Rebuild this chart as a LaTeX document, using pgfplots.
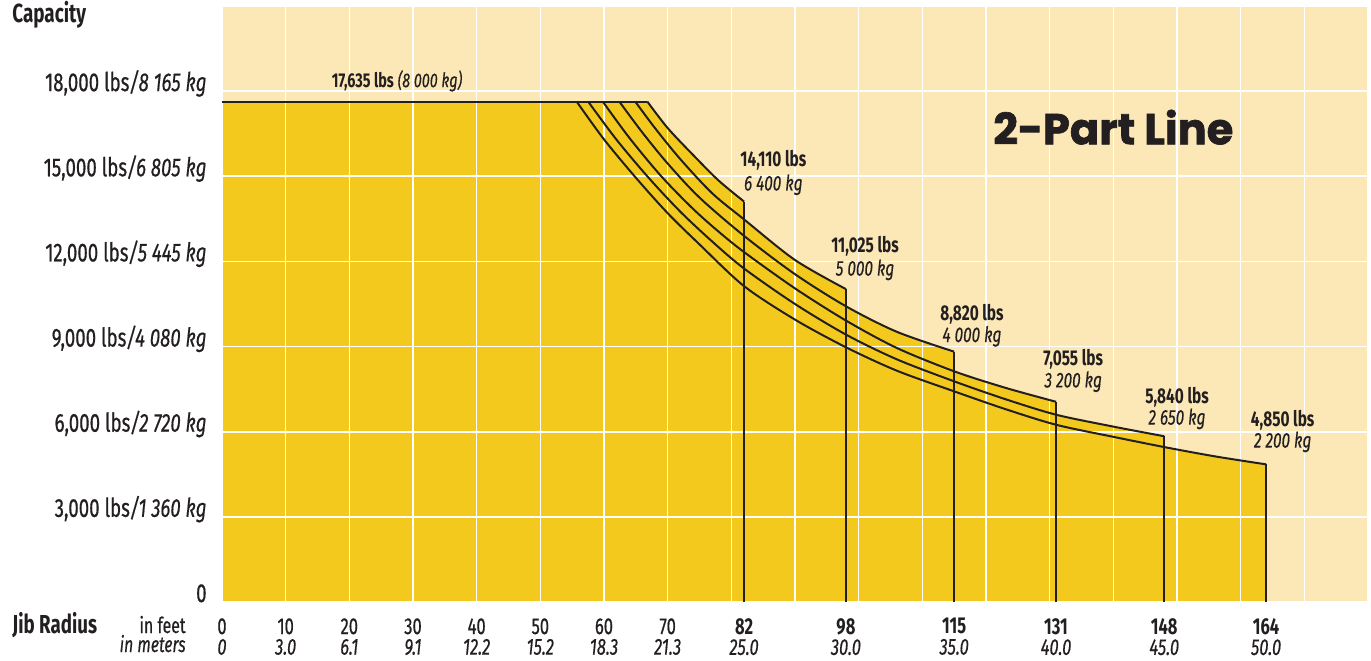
\documentclass[border=0pt]{standalone}
\usepackage{fontspec}
\setmainfont{Fira Sans}[FakeStretch=0.72, UprightFeatures={FakeBold=0.6}, ItalicFeatures={FakeBold=0.4}]
\newfontfamily\pop{Poppins}[BoldFeatures={FakeBold=1.5}]
\usepackage{pgfplots}
\pgfplotsset{compat=1.18}
\definecolor{bglight}{HTML}{FCE8B6}
\definecolor{yellowfill}{HTML}{F3C91E}
\definecolor{dark}{HTML}{231F20}
\newcommand{\lbl}{\fontsize{10.7}{12}\selectfont}
\begin{document}
\begin{tikzpicture}
\begin{axis}[
  set layers,
  scale only axis, width=573pt, height=298pt,
  xmin=0, xmax=180, ymin=0, ymax=21000,
  axis line style={draw=none},
  tick style={draw=none}, major tick length=0pt,
  grid=major, grid style={white, line width=0.8pt},
  xtick={0,10,...,180},
  xticklabels={{0\\\textit{0}},{10\\\textit{3.0}},{20\\\textit{6.1}},{30\\\textit{9.1}},{40\\\textit{12.2}},{50\\\textit{15.2}},{60\\\textit{18.3}},{70\\\textit{21.3}},{},{},{},{},{},{},{},{},{},{},{}},
  xticklabel style={align=center, anchor=north, inner sep=0pt, yshift=-8pt, font=\fontsize{11.5}{10.3}\selectfont, text=dark},
  extra x ticks={82,98,115,131,148,164},
  extra x tick labels={{\textbf{82}\\\textit{25.0}},{\textbf{98}\\\textit{30.0}},{\textbf{115}\\\textit{35.0}},{\textbf{131}\\\textit{40.0}},{\textbf{148}\\\textit{45.0}},{\textbf{164}\\\textit{50.0}}},
  extra x tick style={grid=none},
  ytick={0,3000,...,21000},
  yticklabels={{0},{3,000 lbs\textit{/1 360 kg}},{6,000 lbs\textit{/2 720 kg}},{9,000 lbs\textit{/4 080 kg}},{12,000 lbs\textit{/5 445 kg}},{15,000 lbs\textit{/6 805 kg}},{18,000 lbs\textit{/8 165 kg}},{}},
  yticklabel style={anchor=base east, inner sep=0pt, xshift=-7.5pt, font=\fontsize{13}{15}\selectfont, text=dark},
  scaled y ticks=false,
  clip=false,
]
% backgrounds
\addplot[draw=none, fill=bglight, on layer=axis background] coordinates {(0,21000)(180,21000)} \closedcycle;
\addplot[draw=none, fill=yellowfill, on layer=axis background] coordinates {
 (0,17635)(66.8,17635)(70,16700)(74,15750)(78,14850)(82,14110)
 (82,13480)(90,12050)(98,11025)
 (98,10420)(106,9520)(115,8820)
 (115,8128)(123,7550)(131,7055)
 (131,6600)(140,6180)(148,5840)
 (148,5459)(156,5130)(164,4850)} \closedcycle;
% flat top
\addplot[dark, line width=1pt] coordinates {(0,17635)(66.8,17635)};
% curves
\addplot[dark, line width=1pt, smooth] coordinates {(66.8,17635)(70,16700)(74,15750)(78,14850)(82,14110)};
\addplot[dark, line width=1pt, smooth] coordinates {(64.9,17635)(68,16700)(72,15600)(77,14400)(82,13480)(90,12050)(98,11025)};
\addplot[dark, line width=1pt, smooth] coordinates {(62.4,17635)(66,16550)(70,15450)(75,14250)(82,12900)(90,11550)(98,10420)(106,9520)(115,8820)};
\addplot[dark, line width=1pt, smooth] coordinates {(59.8,17635)(64,16350)(69,15000)(74,13850)(78,13050)(82,12330)(90,11050)(98,9917)(106,8950)(115,8128)(123,7550)(131,7055)};
\addplot[dark, line width=1pt, smooth] coordinates {(57.5,17635)(62,16280)(67,14950)(72,13750)(77,12700)(82,11750)(90,10500)(98,9423)(106,8550)(115,7775)(123,7150)(131,6600)(140,6180)(148,5840)};
\addplot[dark, line width=1pt, smooth] coordinates {(55.7,17635)(60,16300)(65,14950)(70,13700)(75,12600)(82,11130)(90,9950)(98,8975)(106,8150)(115,7422)(123,6800)(131,6246)(140,5820)(148,5459)(156,5130)(164,4850)};
% verticals
\addplot[dark, line width=1pt] coordinates {(82,0)(82,14110)};
\addplot[dark, line width=1pt] coordinates {(98,0)(98,11025)};
\addplot[dark, line width=1pt] coordinates {(115,0)(115,8820)};
\addplot[dark, line width=1pt] coordinates {(131,0)(131,7055)};
\addplot[dark, line width=1pt] coordinates {(148,0)(148,5840)};
\addplot[dark, line width=1pt] coordinates {(164,0)(164,4850)};
% labels
\node[anchor=base, inner sep=0pt, font=\fontsize{10}{12}\selectfont, text=dark] at (axis cs:27.5,18139) {\textbf{17,635 lbs} \textit{(8 000 kg)}};
\node[anchor=base, inner sep=0pt, font=\lbl\bfseries, text=dark] at (axis cs:86.6,15330) {14,110 lbs};
\node[anchor=base, inner sep=0pt, font=\lbl\itshape, text=dark] at (axis cs:86.6,14500) {6 400 kg};
\node[anchor=base, inner sep=0pt, font=\lbl\bfseries, text=dark] at (axis cs:101.0,12330) {11,025 lbs};
\node[anchor=base, inner sep=0pt, font=\lbl\itshape, text=dark] at (axis cs:101.0,11500) {5 000 kg};
\node[anchor=base, inner sep=0pt, font=\lbl\bfseries, text=dark] at (axis cs:117.8,9920) {8,820 lbs};
\node[anchor=base, inner sep=0pt, font=\lbl\itshape, text=dark] at (axis cs:117.8,9160) {4 000 kg};
\node[anchor=base, inner sep=0pt, font=\lbl\bfseries, text=dark] at (axis cs:133.7,8320) {7,055 lbs};
\node[anchor=base, inner sep=0pt, font=\lbl\itshape, text=dark] at (axis cs:133.7,7560) {3 200 kg};
\node[anchor=base, inner sep=0pt, font=\lbl\bfseries, text=dark] at (axis cs:150.0,7010) {5,840 lbs};
\node[anchor=base, inner sep=0pt, font=\lbl\itshape, text=dark] at (axis cs:150.0,6250) {2 650 kg};
\node[anchor=base, inner sep=0pt, font=\lbl\bfseries, text=dark] at (axis cs:166.6,6200) {4,850 lbs};
\node[anchor=base, inner sep=0pt, font=\lbl\itshape, text=dark] at (axis cs:166.6,5440) {2 200 kg};
\node[anchor=base, inner sep=0pt, text=dark] at (axis cs:140.0,16128) {\resizebox{120pt}{!}{\pop\bfseries 2-Part Line}};
\coordinate (BL) at (rel axis cs:0,0);
\end{axis}
\node[anchor=base west, inner sep=0pt, font=\bfseries\fontsize{13.1}{15}\selectfont, text=dark] at ([xshift=-105pt, yshift=289.5pt]BL) {Capacity};
\node[anchor=base west, inner sep=0pt, font=\bfseries\fontsize{13}{15}\selectfont, text=dark] at ([xshift=-105pt, yshift=-15.5pt]BL) {Jib Radius};
\node[anchor=base east, inner sep=0pt, font=\fontsize{11}{13}\selectfont, text=dark] at ([xshift=-18pt, yshift=-15.5pt]BL) {in feet};
\node[anchor=base east, inner sep=0pt, font=\itshape\fontsize{11}{13}\selectfont, text=dark] at ([xshift=-18pt, yshift=-25pt]BL) {in meters};
\pgfresetboundingbox
\path[use as bounding box] (BL) ++(-111pt,-29pt) rectangle ++(685.5pt,330pt);
\end{tikzpicture}
\end{document}
